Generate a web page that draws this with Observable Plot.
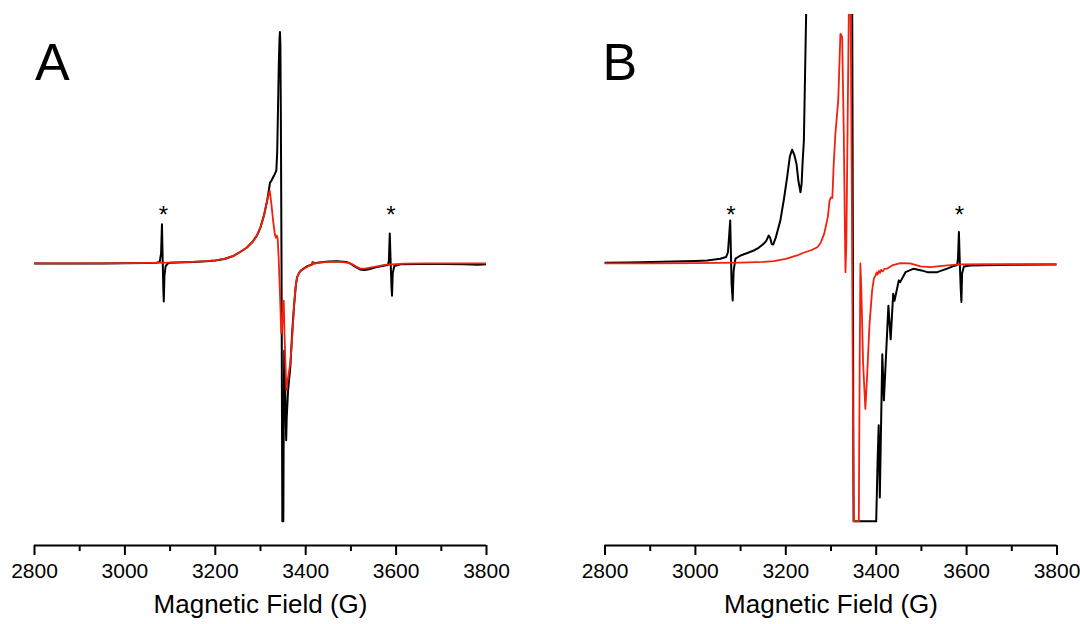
<!DOCTYPE html>
<html>
<head>
<meta charset="utf-8">
<script src="https://cdn.jsdelivr.net/npm/d3@7"></script>
<script src="https://cdn.jsdelivr.net/npm/@observablehq/plot@0.6"></script>
<style>
  html, body { margin: 0; padding: 0; background: #fff; }
  #wrap { display: flex; width: 1080px; height: 624px; }
  #wrap svg { display: block; }
</style>
</head>
<body>
<div id="wrap"></div>
<script>
// ---- Data (magnetic field in G, EPR intensity in arbitrary units) ----
const majorTicks = [2800, 3000, 3200, 3400, 3600, 3800];
const minorTicks = [2900, 3100, 3300, 3500, 3700];
const axisTitle = "Magnetic Field (G)";
const panelLabels = ["A", "B"];

// Panel A, black trace
const fieldA_black = [2800,2850,2900,2950,3000,3050,3070,3077,3080,3082,3083.5,3085,3086,3087.5,3090,3095,3100,3150,3180,3200,3220,3240,3255,3270,3282,3292,3300,3308,3315,3319,3321,3324,3330,3335,3337,3338.5,3340.5,3342,3343,3344,3345,3346.5,3347.5,3348.3,3350.5,3351.5,3352.5,3354.5,3356.8,3358,3361,3366,3370,3374,3378,3381,3386,3390,3396,3405,3414,3415.5,3417,3430,3450,3470,3490,3500,3510,3520,3530,3540,3555,3575,3582,3584,3586,3588,3590,3591,3592.5,3596,3610,3650,3700,3750,3780,3800];
const intA_black   = [0,0,0,0,0.1,0.2,0.3,0.6,4,15.7,2,-10,-15.3,-5,-1.2,0,0.3,0.6,0.9,1.2,1.8,3,4.6,6.4,8.6,11.2,14.5,19.5,25.5,30,32.5,33.2,35.3,37.3,45,60,80,90,93,88,60,0,-60,-103.6,-103.6,-60,-35,-50,-71,-62,-51,-41.6,-28,-17.5,-9,-5.5,-3.6,-2.8,-2,-1,-0.4,0.6,0,0.4,0.8,0.9,0.6,-0.2,-1.4,-2.4,-2.6,-2.3,-1.5,-0.8,-0.6,1,12,0,-10,-13,-4,-1,-0.3,-0.2,-0.2,-0.3,-0.5,-0.3];

// Panel A, red trace
const fieldA_red = [2800,2900,3000,3100,3150,3180,3200,3220,3240,3255,3270,3282,3292,3300,3308,3315,3320.5,3324,3328,3332,3334,3336,3338,3340,3343,3346,3348,3350,3351.5,3353,3355.5,3357.5,3360,3366,3370,3374,3378,3381,3388,3396,3405,3413,3415.5,3417,3430,3450,3477,3495,3505,3513,3521,3530,3540,3558,3575,3590,3620,3660,3800];
const intA_red   = [0,0,0.1,0.3,0.6,0.9,1.2,1.8,3,4.6,6.4,8.6,11.2,14.5,19.5,25.5,29.3,24,17,11.5,10.3,11.2,10,3,-12,-28,-26,-16,-15,-28,-42,-51,-47,-40,-30,-17.5,-9,-5.5,-3,-2.1,-1.2,-0.6,0.6,-0.2,0.3,0.6,0.6,0.2,-0.5,-1.4,-2.1,-2.1,-1.8,-1.2,-0.6,-0.4,-0.1,0,0];

// Panel B, black trace
const fieldB_black = [2800,2850,2878,2950,3000,3026,3055,3068,3072,3075,3077,3078.5,3080,3082.5,3084.5,3088.7,3100,3115,3129,3140,3151,3157,3162,3165,3169,3172,3178,3188,3196,3203,3209,3214,3219,3223.7,3228,3232.5,3235,3237,3240,3243,3245,3250,3340,3347,3348.5,3349.5,3350,3400,3403,3405.5,3408,3413.5,3417,3427,3432,3437.6,3440.5,3450,3453,3464.8,3483,3500,3513,3535,3557,3572,3579,3581,3583,3585,3587,3588.5,3590,3594,3608.6,3700,3800];
const intB_black   = [0.3,0.4,0.5,0.8,1.0,1.2,1.9,2.6,4.5,12,17.3,5,-8,-14.9,-3,1.9,3.2,4.2,5.2,6.3,7.9,9.2,11.2,10.5,7.8,7.6,10.5,17.3,26,34.7,43,45.7,43.5,40,33,28.6,32,40,49.4,80,100,300,300,100,0,-80,-103.6,-103.6,-80,-65,-94,-36.5,-55,-17,-30.5,-12.2,-15,-6.8,-7.5,-3.5,-2.1,-2.8,-3.5,-3.5,-2.1,-1.0,-0.6,2,12.6,0,-10,-15.5,-4,-1.2,-0.8,-0.5,-0.4];

// Panel B, red trace
const fieldB_red = [2800,2900,3000,3100,3150,3173.5,3200,3225,3239,3254.6,3270,3277,3285,3293,3297,3300,3303,3306,3309.7,3316,3320.8,3322.5,3324.7,3328.3,3331,3332,3334,3337,3339.4,3341,3343.5,3346,3348,3350.4,3361.5,3363.5,3365,3367,3371,3376,3380,3385,3391,3395,3398.5,3401,3403,3406,3408.5,3411,3414,3418,3424,3435,3453.8,3475,3498,3520,3557,3586.5,3650,3800];
const intB_red   = [0,0,0.1,0.3,0.6,0.9,1.8,3.2,4.3,5.2,6.5,8.2,12,18.6,25.3,26.5,26.3,40,52,65.5,92.2,92,90.8,52,10,-3.5,8,60,100,140,100,30,-40,-103.6,-103.6,-40,0,-10,-40,-58.4,-45,-25,-10.8,-6,-4.8,-3.6,-4.5,-3,-3.8,-2.6,-3.2,-2.2,-2.1,-0.8,0.1,0,-1.2,-1.5,-0.8,-0.4,-0.3,-0.3];

// Reference-marker asterisk fields
const starsA = [3085, 3588.5];
const starsB = [3078.5, 3584];

// ---- Build ----
const zip = (xs, ys) => xs.map((x, i) => ({field: x, intensity: ys[i]}));
const yDomain = [-113.3, 100];
const starLevel = 19.3;
const font = "'Liberation Sans', Arial, Helvetica, sans-serif";

function panel({black, red, stars, label, marginLeft, marginRight, labelDx}) {
  return Plot.plot({
    width: 540,
    height: 624,
    marginTop: 14,
    marginBottom: 79,
    marginLeft,
    marginRight,
    style: {fontFamily: font, color: "#000", background: "#fff", overflow: "visible"},
    x: {domain: [2800, 3800]},
    y: {domain: yDomain, axis: null},
    marks: [
      Plot.line(black, {x: "field", y: "intensity", stroke: "#000", strokeWidth: 2, clip: true}),
      Plot.line(red, {x: "field", y: "intensity", stroke: "#f2200d", strokeWidth: 1.8, clip: true}),
      Plot.text(stars, {x: d => d, y: () => starLevel, text: () => "*", fontSize: 24, fill: "#000"}),
      Plot.text([label], {text: d => d, frameAnchor: "top-left", lineAnchor: "top", textAnchor: "start", dx: labelDx, dy: 29, fontSize: 52, fill: "#000"}),
      Plot.ruleY([yDomain[0]], {stroke: "#000", strokeWidth: 2}),
      Plot.axisX({ticks: majorTicks, tickSize: 10, tickPadding: 8, fontSize: 21, strokeWidth: 2, tickFormat: d => String(d), label: null}),
      Plot.axisX({ticks: minorTicks, tickSize: 6, strokeWidth: 2, tickFormat: () => "", label: null}),
      Plot.text([axisTitle], {text: d => d, frameAnchor: "bottom", dy: 67, fontSize: 26, fill: "#000"})
    ]
  });
}

const wrap = document.getElementById("wrap");
wrap.append(panel({
  black: zip(fieldA_black, intA_black),
  red: zip(fieldA_red, intA_red),
  stars: starsA, label: panelLabels[0],
  marginLeft: 34, marginRight: 54, labelDx: 0.5
}));
wrap.append(panel({
  black: zip(fieldB_black, intB_black),
  red: zip(fieldB_red, intB_red),
  stars: starsB, label: panelLabels[1],
  marginLeft: 64.5, marginRight: 23.5, labelDx: -2.5
}));
</script>
</body>
</html>
